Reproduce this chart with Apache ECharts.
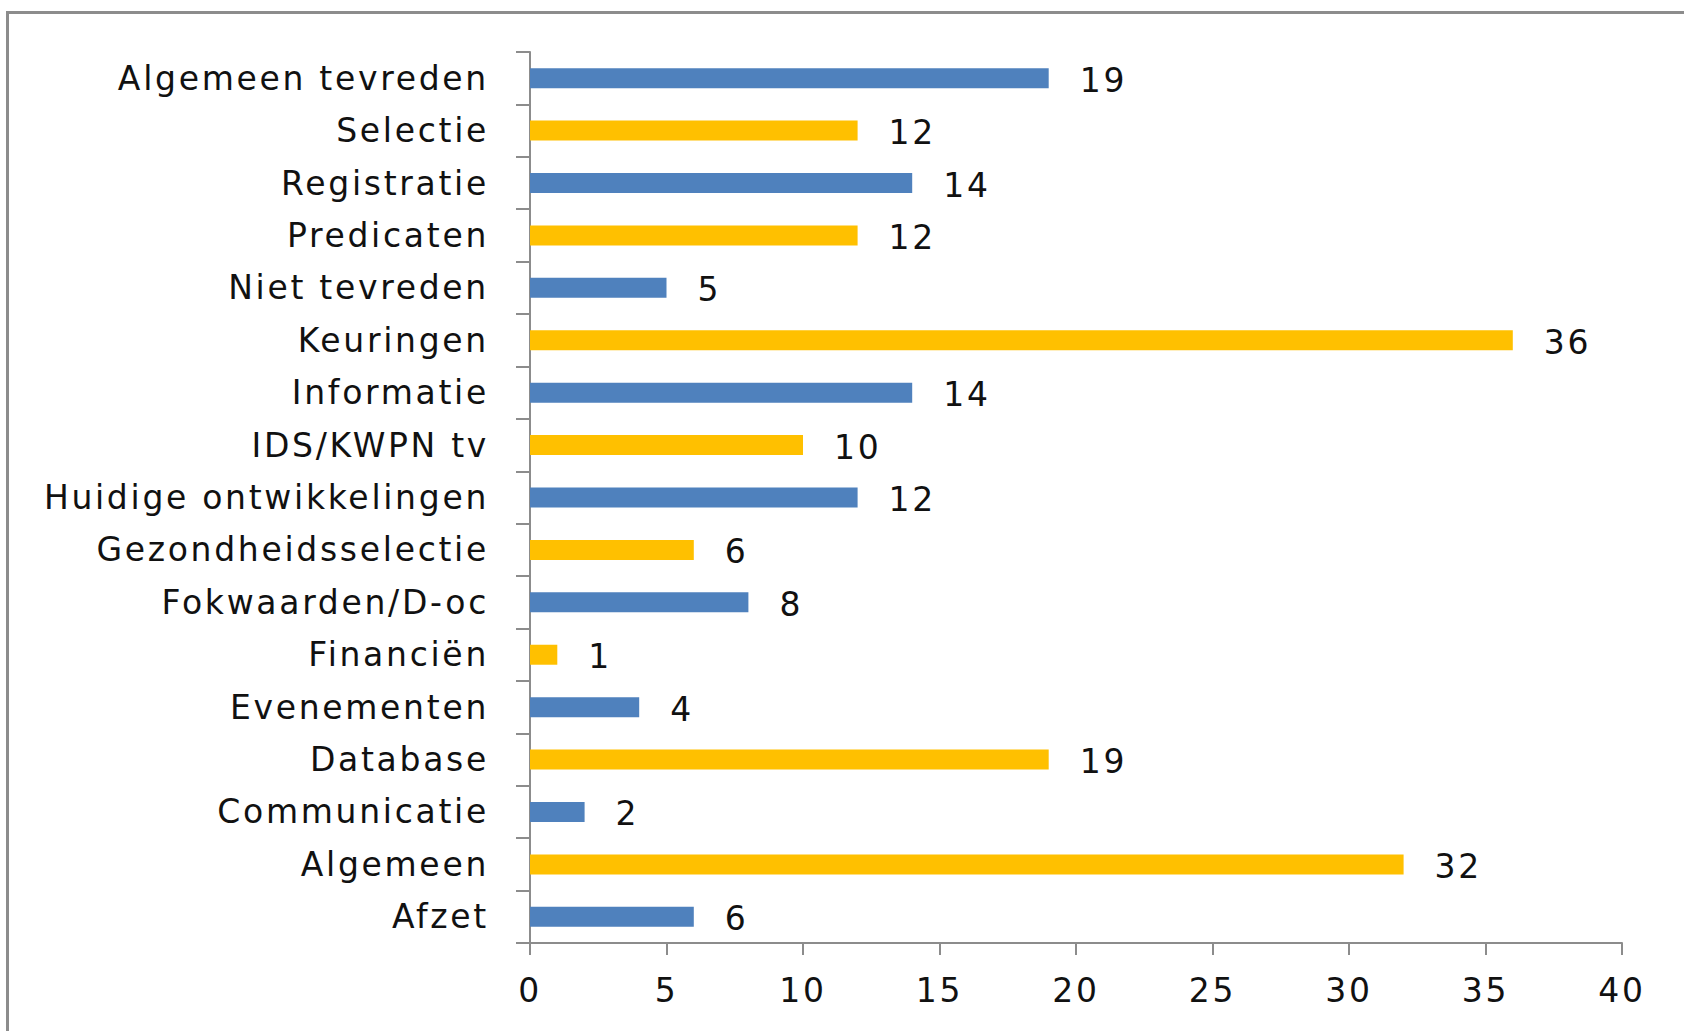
<!DOCTYPE html>
<html>
<head>
<meta charset="utf-8">
<script src="https://cdn.jsdelivr.net/npm/echarts@6/dist/echarts.min.js"></script>
<style>
  html, body { margin: 0; padding: 0; background: #fff; }
  #frame { position: absolute; left: 6px; top: 11px; width: 1700px; height: 1100px;
           border-left: 3px solid #8c8c8c; border-top: 3px solid #8c8c8c; }
  #chart { position: absolute; left: 0; top: 0; width: 1684px; height: 1031px; }
  #chart text { letter-spacing: 2.7px; }
</style>
</head>
<body>
<div id="frame"></div>
<div id="chart"></div>
<script>
// Categories listed bottom to top (as on the y axis)
const categories = [
  'Afzet', 'Algemeen', 'Communicatie', 'Database', 'Evenementen', 'Financiën',
  'Fokwaarden/D-oc', 'Gezondheidsselectie', 'Huidige ontwikkelingen', 'IDS/KWPN tv',
  'Informatie', 'Keuringen', 'Niet tevreden', 'Predicaten', 'Registratie',
  'Selectie', 'Algemeen tevreden'
];
const values = [6, 32, 2, 19, 4, 1, 8, 6, 12, 10, 14, 36, 5, 12, 14, 12, 19];
const xTicks = { min: 0, max: 40, interval: 5 };
const colors = ['#4F81BD', '#FFC000'];

const FONT = 'DejaVu Sans';
const chart = echarts.init(document.getElementById('chart'), null, { renderer: 'svg' });
chart.setOption({
  animation: false,
  grid: { left: 530, right: 62, top: 52, bottom: 88, containLabel: false },
  xAxis: {
    type: 'value',
    min: xTicks.min, max: xTicks.max, interval: xTicks.interval,
    axisLine: { show: true, lineStyle: { color: '#8c8c8c', width: 2 } },
    axisTick: { show: true, length: 12, lineStyle: { color: '#8c8c8c', width: 2 } },
    splitLine: { show: false },
    axisLabel: { color: '#111', fontFamily: FONT, fontSize: 33, margin: 31 }
  },
  yAxis: {
    type: 'category',
    data: categories,
    axisLine: { show: true, lineStyle: { color: '#8c8c8c', width: 2 } },
    axisTick: { show: true, length: 14, lineStyle: { color: '#8c8c8c', width: 2 } },
    axisLabel: { color: '#111', fontFamily: FONT, fontSize: 33, margin: 41 }
  },
  series: [{
    type: 'bar',
    data: values,
    barWidth: 20,
    itemStyle: { color: p => colors[p.dataIndex % 2] },
    label: {
      show: true, position: 'right', distance: 31,
      color: '#111', fontFamily: FONT, fontSize: 33, offset: [0, 2]
    }
  }]
});
</script>
</body>
</html>
